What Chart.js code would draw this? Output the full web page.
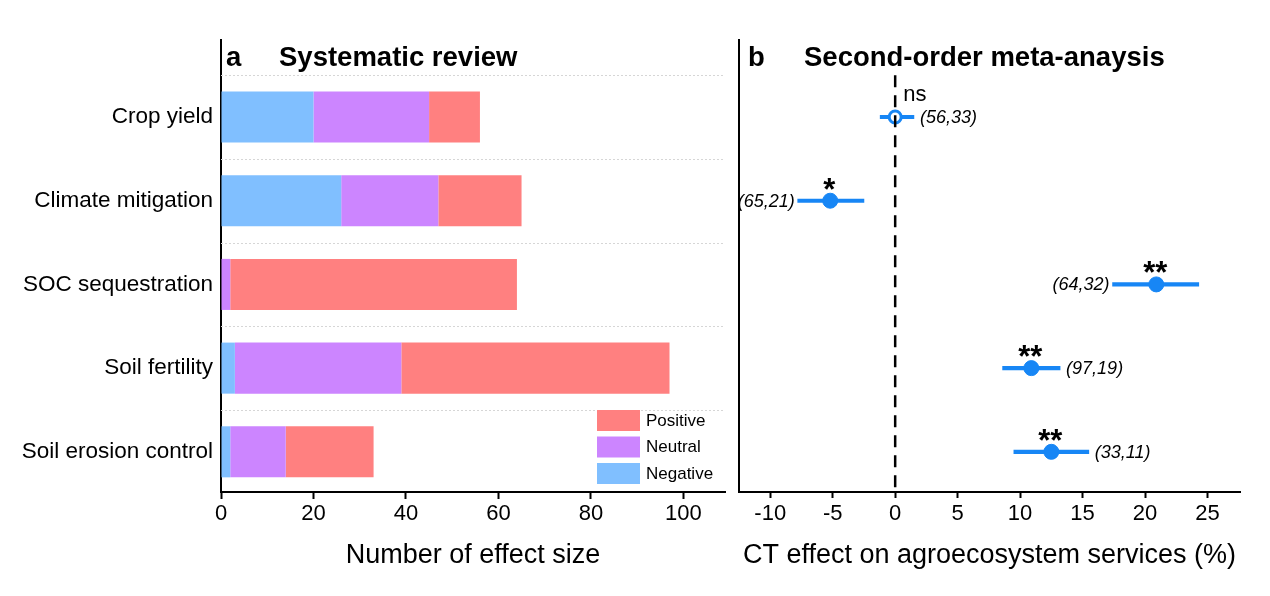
<!DOCTYPE html>
<html>
<head>
<meta charset="utf-8">
<script src="https://cdn.jsdelivr.net/npm/chart.js@4"></script>
<style>
  html, body { margin: 0; padding: 0; background: #fff; }
  body { width: 1270px; height: 596px; position: relative; overflow: hidden; }
  #reviewChart { position: absolute; left: 0; top: 0; }
  #metaChart { position: absolute; left: 730px; top: 0; }
</style>
</head>
<body>
<canvas id="reviewChart" width="735" height="596"></canvas>
<canvas id="metaChart" width="540" height="596"></canvas>
<script>
// panel a: counts of effect sizes per service
const services = ["Crop yield", "Climate mitigation", "SOC sequestration", "Soil fertility", "Soil erosion control"];
const negativeCounts = [20, 26, 0, 3, 2];
const neutralCounts = [25, 21, 2, 36, 12];
const positiveCounts = [11, 18, 62, 58, 19];
const countTicks = [0, 20, 40, 60, 80, 100];

// panel b: second-order meta-analysis (mean effect and 95% CI, %)
const effectMean = [0, -5.2, 20.9, 10.9, 12.5];
const effectLow = [-1.2, -7.8, 17.4, 8.6, 9.5];
const effectHigh = [1.5, -2.5, 24.3, 13.2, 15.5];
const significance = ["ns", "*", "**", "**", "**"];
const sampleLabels = ["(56,33)", "(65,21)", "(64,32)", "(97,19)", "(33,11)"];
const effectTicks = [-10, -5, 0, 5, 10, 15, 20, 25];

const FONT = '"Liberation Sans", Arial, sans-serif';
const BLUE = "#1786f5";
Chart.defaults.font.family = FONT;
Chart.defaults.color = "#000";

function rowPoints(values) {
    return values.map((v, i) => ({ x: v, y: i }));
}

function rowScale(extra) {
    return Object.assign({
        type: "linear",
        reverse: true,
        offset: false,
        min: -0.92,
        max: 4.48,
        border: { color: "#000", width: 2 },
        grid: { display: false }
    }, extra);
}

function panelTitle(letter, text, letterGap, textGap) {
    return {
        id: "panelTitle",
        afterDraw(chart) {
            const { ctx, chartArea } = chart;
            ctx.save();
            ctx.font = "bold 27.5px " + FONT;
            ctx.fillStyle = "#000";
            ctx.textAlign = "left";
            ctx.textBaseline = "alphabetic";
            ctx.fillText(letter, chartArea.left + letterGap, 66);
            ctx.fillText(text, chartArea.left + textGap, 66);
            ctx.restore();
        }
    };
}

// dotted separators between the rows
const rowGuides = {
    id: "rowGuides",
    beforeDatasetsDraw(chart) {
        const { ctx, chartArea, scales: { y } } = chart;
        ctx.save();
        ctx.strokeStyle = "#d6d6d6";
        ctx.lineWidth = 1;
        ctx.setLineDash([2, 2]);
        for (let i = 0; i < services.length; i++) {
            const py = Math.round(y.getPixelForValue(i - 0.5)) + 0.5;
            ctx.beginPath();
            ctx.moveTo(chartArea.left, py);
            ctx.lineTo(chartArea.right, py);
            ctx.stroke();
        }
        ctx.restore();
    }
};

const reviewLegend = {
    id: "reviewLegend",
    afterDraw(chart) {
        const { ctx, chartArea } = chart;
        const items = chart.data.datasets.slice().reverse();
        const boxX = chartArea.right - 128;
        const top = chartArea.bottom - 82;
        ctx.save();
        items.forEach((ds, k) => {
            const yTop = top + k * 26.5;
            ctx.fillStyle = ds.backgroundColor;
            ctx.fillRect(boxX, yTop, 43, 21);
            ctx.fillStyle = "#000";
            ctx.font = "17px " + FONT;
            ctx.textAlign = "left";
            ctx.textBaseline = "middle";
            ctx.fillText(ds.label, boxX + 49, yTop + 11);
        });
        ctx.restore();
    }
};

// significance marks and (n, k) labels next to each estimate
const labelOnLeft = [false, true, true, false, false];
const metaNotes = {
    id: "metaNotes",
    afterDraw(chart) {
        const { ctx, scales: { x, y } } = chart;
        ctx.save();
        ctx.fillStyle = "#000";
        significance.forEach((sig, i) => {
            const px = x.getPixelForValue(effectMean[i]);
            const py = y.getPixelForValue(i);
            ctx.textBaseline = "alphabetic";
            if (sig === "ns") {
                ctx.font = "22px " + FONT;
                ctx.textAlign = "left";
                ctx.fillText(sig, px + 8, py - 16);
            } else {
                ctx.font = "bold 31px " + FONT;
                ctx.textAlign = "center";
                ctx.fillText(sig, px - 1, py - 1);
            }
            ctx.font = "italic 18px " + FONT;
            ctx.textBaseline = "middle";
            if (labelOnLeft[i]) {
                ctx.textAlign = "right";
                ctx.fillText(sampleLabels[i], x.getPixelForValue(effectLow[i]) - 3, py + 1);
            } else {
                ctx.textAlign = "left";
                ctx.fillText(sampleLabels[i], x.getPixelForValue(effectHigh[i]) + 6, py + 1);
            }
        });
        ctx.restore();
    }
};

new Chart(document.getElementById("reviewChart"), {
    type: "bar",
    data: {
        datasets: [
            { label: "Negative", data: rowPoints(negativeCounts), backgroundColor: "#80bfff" },
            { label: "Neutral", data: rowPoints(neutralCounts), backgroundColor: "#cc85ff" },
            { label: "Positive", data: rowPoints(positiveCounts), backgroundColor: "#ff8080" }
        ]
    },
    options: {
        indexAxis: "y",
        responsive: false,
        animation: false,
        layout: { padding: { top: 40, right: 10, left: 0, bottom: 0 } },
        datasets: { bar: { categoryPercentage: 1, barPercentage: 0.61 } },
        plugins: { legend: { display: false }, tooltip: { enabled: false } },
        scales: {
            x: {
                type: "linear",
                stacked: true,
                min: 0,
                max: 109,
                border: { color: "#000", width: 2 },
                grid: { drawOnChartArea: false, tickLength: 7, tickColor: "#000", tickWidth: 2 },
                ticks: { includeBounds: false, padding: 2, font: { size: 22 } },
                afterBuildTicks: s => { s.ticks = countTicks.map(v => ({ value: v })); },
                title: { display: true, text: "Number of effect size", font: { size: 27 }, padding: { top: 0, bottom: 24 } },
                afterFit: s => { s.height = 104; }
            },
            y: rowScale({
                stacked: true,
                ticks: { padding: 0, font: { size: 22.5 }, callback: v => services[v] ?? "" },
                afterBuildTicks: s => { s.ticks = services.map((_, i) => ({ value: i })); },
                afterFit: s => { s.width = 221; }
            })
        }
    },
    plugins: [rowGuides, reviewLegend, panelTitle("a", "Systematic review", 5, 58)]
});

new Chart(document.getElementById("metaChart"), {
    type: "bar",
    data: {
        datasets: [
            {
                type: "line",
                data: [{ x: 0, y: -0.5 }, { x: 0, y: 4.48 }],
                borderColor: "#000",
                borderWidth: 2.5,
                borderDash: [12, 8],
                pointRadius: 0,
                order: 1
            },
            {
                type: "scatter",
                data: rowPoints(effectMean),
                pointRadius: ctx => significance[ctx.dataIndex] === "ns" ? 6 : 7.5,
                pointBorderWidth: ctx => significance[ctx.dataIndex] === "ns" ? 3 : 1,
                pointBackgroundColor: ctx => significance[ctx.dataIndex] === "ns" ? "#fff" : BLUE,
                pointBorderColor: BLUE,
                order: 2
            },
            {
                type: "bar",
                data: effectLow.map((lo, i) => ({ x: [lo, effectHigh[i]], y: i })),
                backgroundColor: BLUE,
                barThickness: 3.5,
                order: 3
            }
        ]
    },
    options: {
        indexAxis: "y",
        responsive: false,
        animation: false,
        layout: { padding: { top: 40, right: 30, left: 0, bottom: 0 } },
        plugins: { legend: { display: false }, tooltip: { enabled: false } },
        scales: {
            x: {
                type: "linear",
                min: -12.5,
                max: 27.6,
                border: { color: "#000", width: 2 },
                grid: { drawOnChartArea: false, tickLength: 6, tickColor: "#000", tickWidth: 2 },
                ticks: { includeBounds: false, padding: 3, font: { size: 22 } },
                afterBuildTicks: s => { s.ticks = effectTicks.map(v => ({ value: v })); },
                title: { display: true, text: "CT effect on agroecosystem services (%)", font: { size: 27 }, padding: { top: 0, bottom: 24 } },
                afterFit: s => { s.height = 104; }
            },
            y: rowScale({
                ticks: { display: false },
                afterFit: s => { s.width = 7; }
            })
        }
    },
    plugins: [metaNotes, panelTitle("b", "Second-order meta-anaysis", 9, 65)]
});
</script>
</body>
</html>
